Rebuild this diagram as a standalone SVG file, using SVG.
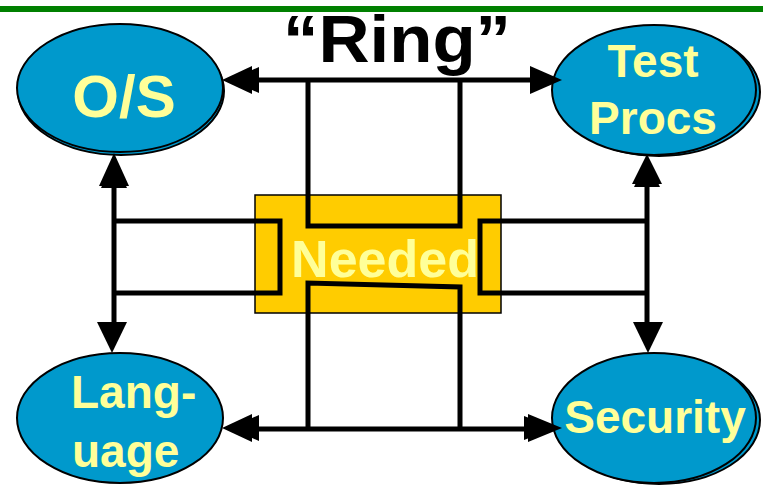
<svg xmlns="http://www.w3.org/2000/svg" width="763" height="485" viewBox="0 0 763 485">
<style>
.ell{fill:#0099CC;stroke:#000;stroke-width:2}
.lbl{font-family:"Liberation Sans",Arial,sans-serif;font-weight:bold;fill:#FFFF99;text-anchor:middle}
.ln{fill:none;stroke:#000;stroke-width:5;stroke-linejoin:miter}
.ah{fill:#000}
</style>
<rect width="763" height="485" fill="#fff"/>
<rect x="0" y="6" width="763" height="6" fill="#008000"/>
<text x="397" y="62" font-family="'Liberation Sans',Arial,sans-serif" font-weight="bold" font-size="67" text-anchor="middle" fill="#000" textLength="228" lengthAdjust="spacingAndGlyphs">“Ring”</text>

<g id="node-os">
<ellipse class="ell" cx="121" cy="91" rx="103" ry="64"/>
<ellipse class="ell" cx="120" cy="88" rx="103" ry="64"/>
<text class="lbl" x="124" y="117" font-size="60">O/S</text>
</g>
<g id="node-testprocs">
<ellipse class="ell" cx="659" cy="92" rx="101" ry="64"/>
<ellipse class="ell" cx="654" cy="90" rx="102" ry="65"/>
<text class="lbl" x="653" y="77" font-size="46">Test</text>
<text class="lbl" x="653" y="134" font-size="46">Procs</text>
</g>
<g id="node-language">
<ellipse class="ell" cx="120" cy="418" rx="103" ry="65"/>
<text class="lbl" x="71" y="408" font-size="46" style="text-anchor:start">Lang-</text>
<text class="lbl" x="72" y="467" font-size="46" style="text-anchor:start">uage</text>
</g>
<g id="node-security">
<ellipse class="ell" cx="659" cy="420" rx="101" ry="64"/>
<ellipse class="ell" cx="654" cy="418" rx="102" ry="65"/>
<text class="lbl" x="655" y="433" font-size="46">Security</text>
</g>
<g id="node-needed">
<rect x="255" y="195" width="246" height="118" fill="#FFCC00" stroke="#000" stroke-width="1.5"/>
<text class="lbl" x="385" y="277" font-size="52">Needed</text>
</g>

<g id="connectors">
<path class="ln" d="M250,80 H535"/>
<path class="ln" d="M308,80 V226 H460 V80"/>
<path class="ln" d="M250,429 H532"/>
<path class="ln" d="M308,429 V283 L460,287 V429"/>
<path class="ln" d="M114,183 V325"/>
<path class="ln" d="M114,221 H280 V293 H114"/>
<path class="ln" d="M647,182 V325"/>
<path class="ln" d="M647,221 H480 V293 H647"/>
<polygon class="ah" points="222,80 252,66 252,94"/>
<polygon class="ah" points="230,80 259,67 259,93"/>
<polygon class="ah" points="562,80 530,66 530,94"/>
<polygon class="ah" points="222,428 252,414 252,442"/>
<polygon class="ah" points="230,428 259,415 259,441"/>
<polygon class="ah" points="562,428 528,414 528,442"/>
<polygon class="ah" points="555,428 524,416 524,440"/>
<polygon class="ah" points="114,153 129,186 99,186"/>
<polygon class="ah" points="114,160 127,188 101,188"/>
<polygon class="ah" points="647,154 662,184 632,184"/>
<polygon class="ah" points="647,160 660,187 634,187"/>
<polygon class="ah" points="112,353 97,322 127,322"/>
<polygon class="ah" points="648,353 633,322 663,322"/>
</g>
</svg>
